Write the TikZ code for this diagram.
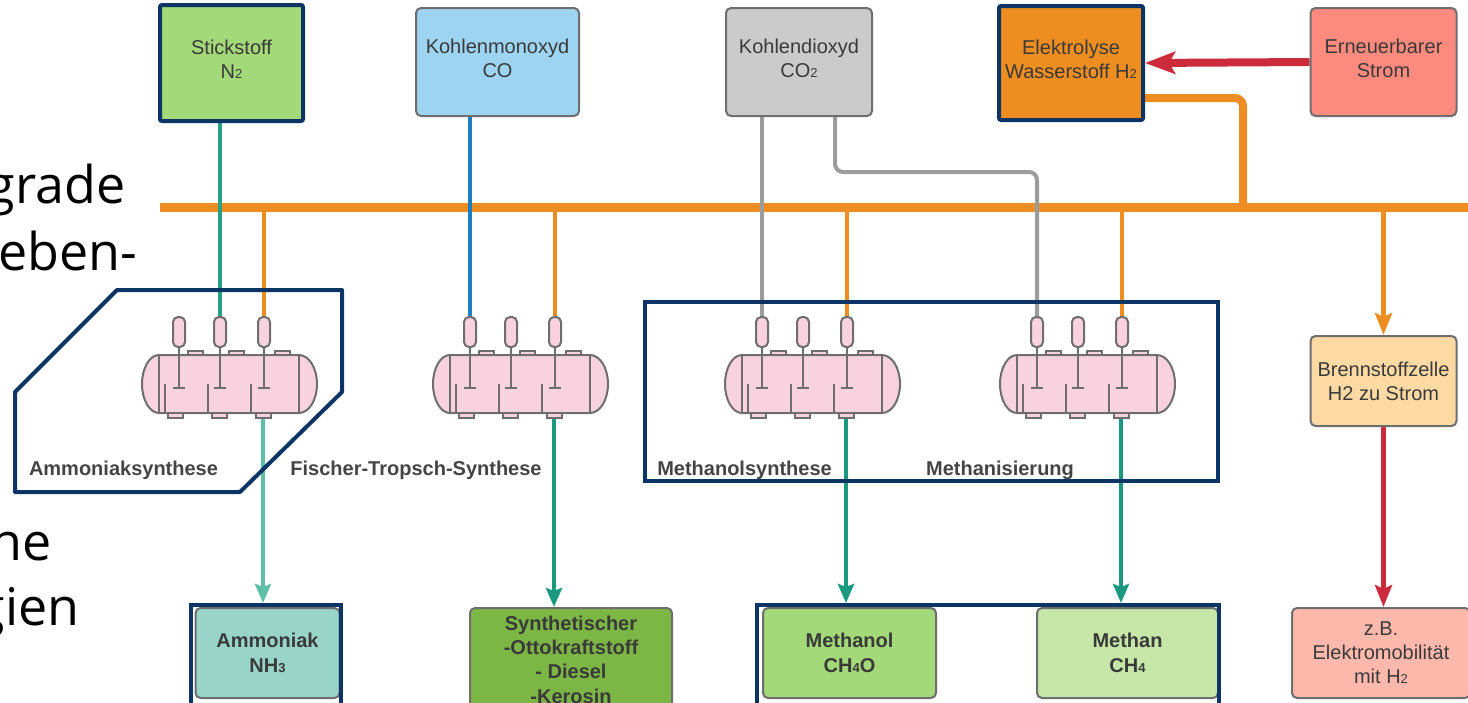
\documentclass[tikz,border=0pt]{standalone}
\usepackage{fontspec}
\setmainfont{Liberation Sans}
\newfontfamily\slidefont{Open Sans}
\usetikzlibrary{arrows.meta}
\pgfdeclarelayer{bg}
\pgfsetlayers{bg,main}
\definecolor{navy}{HTML}{0C3566}
\definecolor{orng}{HTML}{EE8E22}
\definecolor{tealc}{HTML}{26A086}
\definecolor{tealout}{HTML}{1A9880}
\definecolor{lteal}{HTML}{5DBFA7}
\definecolor{bluec}{HTML}{1B7EC2}
\definecolor{grayc}{HTML}{9C9C9C}
\definecolor{redc}{HTML}{CC2B3B}
\definecolor{boxgray}{HTML}{6E6E6E}
\definecolor{txt}{HTML}{3A3A3A}
\definecolor{lbltxt}{HTML}{444444}
\definecolor{stickf}{HTML}{A3D978}
\definecolor{cof}{HTML}{9DD4F1}
\definecolor{cotwof}{HTML}{CBCBCB}
\definecolor{elekf}{HTML}{EF8E20}
\definecolor{ernf}{HTML}{FF8A7D}
\definecolor{bzf}{HTML}{FDD9A3}
\definecolor{amf}{HTML}{98D5C8}
\definecolor{synf}{HTML}{7CB645}
\definecolor{methanolf}{HTML}{A3D978}
\definecolor{methanf}{HTML}{C6E7A8}
\definecolor{zbf}{HTML}{FFB9AC}
\definecolor{rpink}{HTML}{F8D3DF}
\definecolor{rgray}{HTML}{6E6E6E}
\newcommand\sbs[1]{{\fontsize{6.5}{6.5}\selectfont #1}}
\newcommand\dn{\rule[-3.5pt]{0pt}{3.5pt}}
\tikzset{
  box/.style={draw=boxgray, line width=1pt, rounded corners=2.5pt, align=center, text=txt,
    font=\fontsize{10}{12}\selectfont, inner sep=0pt},
  boldbox/.style={box, font=\bfseries\fontsize{10}{12.2}\selectfont},
  navybox/.style={draw=navy, line width=2pt, rounded corners=1pt, align=center, text=txt,
    font=\fontsize{10}{12}\selectfont, inner sep=0pt},
  frame/.style={draw=navy, line width=2pt, inner sep=0pt},
  busline/.style={draw=orng, line width=4.5pt},
  feed/.style={line width=2pt},
  outarrow/.style={line width=2pt, -{Stealth[length=9.5pt,width=8pt,inset=1.5pt]}},
  bigarrow/.style={line width=2.2pt, -{Stealth[length=11pt,width=8.5pt,inset=2pt]}},
  rbody/.style={fill=rpink, draw=rgray, line width=1pt},
  rline/.style={draw=rgray, line width=1pt},
  lbl/.style={font=\bfseries\fontsize{10}{12}\selectfont, text=lbltxt, inner sep=0pt},
  bigtxt/.style={font=\slidefont\fontsize{26}{32}\selectfont, text=black, inner sep=0pt}
}
\newcommand\reactor[2]{%
\begin{scope}[shift={(#2,0)}]
 \coordinate (#1in1) at (37,317);
 \coordinate (#1in2) at (78,317);
 \coordinate (#1in3) at (122,317);
 \coordinate (#1out) at (121,418);
 \draw[rbody] (17,355) -- (157,355) arc[start angle=270,end angle=450,x radius=18,y radius=29]
   -- (17,413) arc[start angle=90,end angle=270,x radius=17,y radius=29] -- cycle;
 \foreach \a in {46,87,133} \draw[rbody] (\a,351) rectangle ++(15,4);
 \foreach \a in {26,70,114} \draw[rbody] (\a,413) rectangle ++(15,5);
 \draw[rline] (17,355) -- (17,413) (157,355) -- (157,413);
 \foreach \a in {37,78,122} {
   \draw[rline] (\a,347) -- (\a,388) (\a-6,388) -- (\a+6,388);
   \draw[rbody, rounded corners=2.5pt] (\a-6,317) rectangle (\a+6,347);}
 \foreach \a in {23,66,109} \draw[rline] (\a,384) -- (\a,413);
\end{scope}}
\begin{document}
\begin{tikzpicture}[x=0.5pt,y=-0.5pt]
\useasboundingbox (0,0) rectangle (1468,702);
\clip (0,0) rectangle (1468,702);
% slide text (cut off at the left edge, as in the source)
\node[bigtxt, anchor=base east] (t1) at (126,203) {grade};
\node[bigtxt, anchor=base east] (t2) at (138,270) {eben-};
\node[bigtxt, anchor=base east] (t3) at (52,560) {ne};
\node[bigtxt, anchor=base east] (t4) at (80,625) {gien};
% top boxes
\node[navybox, fill=stickf, minimum width=71.5pt, minimum height=58pt] (stick) at (231.5,63) {Stickstoff\\N\sbs{2}\dn};
\node[box, fill=cof, minimum width=81.5pt, minimum height=54pt] (co) at (497.5,62) {Kohlenmonoxyd\\CO\dn};
\node[box, fill=cotwof, minimum width=73pt, minimum height=54pt] (cotwo) at (799,62) {Kohlendioxyd\\CO\sbs{2}\dn};
\node[navybox, fill=elekf, minimum width=72pt, minimum height=57pt] (elek) at (1071,63) {Elektrolyse\\Wasserstoff H\sbs{2}\dn};
\node[box, fill=ernf, minimum width=73pt, minimum height=54pt] (ern) at (1383.5,62) {Erneuerbarer\\Strom\dn};
\node[box, fill=bzf, minimum width=73pt, minimum height=45pt] (bz) at (1383.5,381) {Brennstoffzelle\\H2 zu Strom};
% bottom boxes
\node[boldbox, fill=amf, minimum width=72pt, minimum height=45pt] (ammon) at (267.5,653) {Ammoniak\\NH\sbs{3}};
\node[boldbox, fill=synf, minimum width=101pt, minimum height=51.5pt] (synth) at (571,659.5) {Synthetischer\\-Ottokraftstoff\\- Diesel\\-Kerosin};
\node[boldbox, fill=methanolf, minimum width=86.5pt, minimum height=45pt] (methanol) at (849.5,653) {Methanol\\CH\sbs{4}O};
\node[boldbox, fill=methanf, minimum width=90.5pt, minimum height=45pt] (methan) at (1127.5,653) {Methan\\CH\sbs{4}};
\node[box, fill=zbf, minimum width=89pt, minimum height=45pt] (zb) at (1381,653) {z.B.\\Elektromobilität\\mit H\sbs{2}};
\node[frame, minimum width=75pt, minimum height=57.5pt] (amframe) at (266,662.5) {};
\node[frame, minimum width=231pt, minimum height=57.5pt] (meframe) at (988,662.5) {};
% reactors
\reactor{ra}{142}
\reactor{rb}{433}
\reactor{rc}{725}
\reactor{rd}{1000}
% group frames and labels
\draw[draw=navy, line width=2pt, line join=round] (117,290) -- (342,290) -- (342,392) -- (240,492) -- (15,492) -- (15,392) -- cycle;
\draw[draw=navy, line width=2pt] (645,302) rectangle (1218,481);
\node[lbl] (lam) at (123.5,470) {Ammoniaksynthese};
\node[lbl] (lft) at (416,470) {Fischer-Tropsch-Synthese};
\node[lbl] (lme) at (744.5,470) {Methanolsynthese};
\node[lbl] (lmz) at (1000,470) {Methanisierung};
% connectors (behind)
\coordinate (busL) at (160,207);
\coordinate (busR) at (1472,207);
\coordinate (hknee) at (1243,98);
\coordinate (cknee) at (835,172);
\begin{pgfonlayer}{bg}
\draw[busline] (busL) -- (busR);
\draw[draw=orng, line width=4pt, rounded corners=4pt] (elek.east |- hknee) -- (hknee) -- (hknee |- busL);
\draw[feed, draw=orng] (busL -| rain3) -- (rain3);
\draw[feed, draw=orng] (busL -| rbin3) -- (rbin3);
\draw[feed, draw=orng] (busL -| rcin3) -- (rcin3);
\draw[feed, draw=orng] (busL -| rdin3) -- (rdin3);
\draw[feed, draw=tealc] (stick.south -| rain2) -- (rain2);
\draw[feed, draw=bluec] (co.south -| rbin1) -- (rbin1);
\draw[feed, draw=grayc] (cotwo.south -| rcin1) -- (rcin1);
\draw[feed, draw=grayc, rounded corners=4pt] (cotwo.south -| cknee) -- (cknee) -- (cknee -| rdin1) -- (rdin1);
\draw[outarrow, draw=lteal, fill=lteal] (raout) -- (raout |- amframe.north);
\draw[outarrow, draw=tealout, fill=tealout] (rbout) -- (rbout |- synth.north);
\draw[outarrow, draw=tealout, fill=tealout] (rcout) -- (rcout |- meframe.north);
\draw[outarrow, draw=tealout, fill=tealout] (rdout) -- (rdout |- meframe.north);
\draw[bigarrow, draw=orng, fill=orng] (busL -| bz.north) -- (bz.north);
\draw[bigarrow, draw=redc, fill=redc] (bz.south) -- (zb.north -| bz.south);
\draw[draw=redc, fill=redc, line width=4pt, -{Stealth[length=15pt,width=11pt,inset=3pt]}] (ern.west) -- (elek.east);
\end{pgfonlayer}
\end{tikzpicture}
\end{document}
